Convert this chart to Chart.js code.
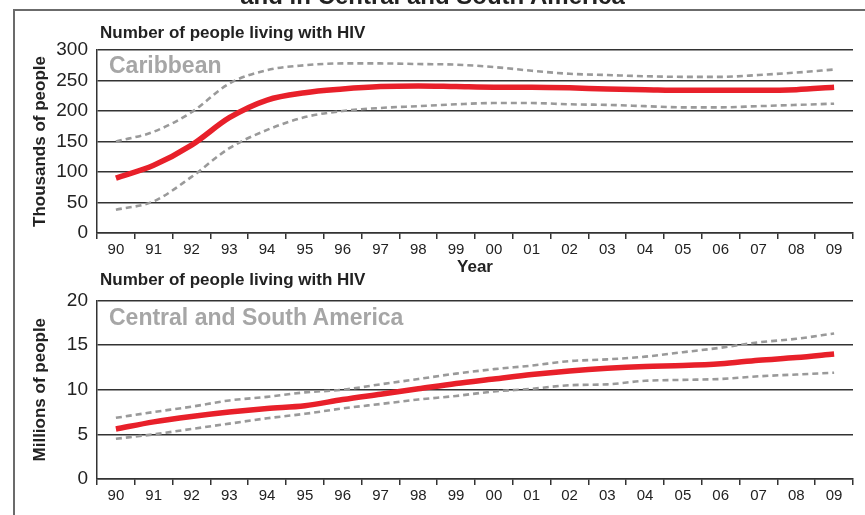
<!DOCTYPE html>
<html><head><meta charset="utf-8">
<script src="https://cdn.jsdelivr.net/npm/chart.js@4.4.1/dist/chart.umd.min.js"></script>
<style>
html,body{margin:0;padding:0;background:#fff;}
body{width:865px;height:515px;position:relative;overflow:hidden;font-family:"Liberation Sans",Arial,sans-serif;}
.frame{position:absolute;left:13px;top:9px;width:900px;height:600px;border-left:2px solid #6b6b6b;border-top:2px solid #6b6b6b;}
.lbl{position:absolute;white-space:nowrap;font-weight:bold;line-height:1;z-index:5;}
canvas{position:absolute;left:0;z-index:2;}
</style></head><body>
<div class="frame"></div>
<div class="lbl" style="left:0;width:865px;text-align:center;top:-16px;font-size:24px;color:#222;">and in Central and South America</div>
<div class="lbl" style="left:100px;top:24px;font-size:17px;color:#222;">Number of people living with HIV</div>
<div class="lbl" style="left:109px;top:54px;font-size:23px;color:#a6a6a6;">Caribbean</div>
<div class="lbl" style="left:100px;top:271px;font-size:17px;color:#222;">Number of people living with HIV</div>
<div class="lbl" style="left:109px;top:306px;font-size:23px;color:#a6a6a6;">Central and South America</div>
<canvas id="c1" width="865" height="280" style="top:0"></canvas>
<canvas id="c2" width="865" height="235" style="top:280px"></canvas>
<script>
const years = ['90','91','92','93','94','95','96','97','98','99','00','01','02','03','04','05','06','07','08','09'];

// Caribbean, thousands of people
const caribbeanHigh = [150,166,198,245,267,275,278,278,277,276,272,266,261,259,257,256,256,259,263,268];
const caribbeanEst  = [90,111,144,189,218,230,236,240,241,240,239,239,238,236,235,234,234,234,235,239];
const caribbeanLow  = [38,52,92,139,169,190,200,205,208,211,213,213,211,210,208,206,206,208,210,212];
const caribbeanTicks = [0,50,100,150,200,250,300];

// Central and South America, millions of people
const latamHigh = [6.85,7.5,8.1,8.8,9.2,9.7,10.0,10.6,11.2,11.8,12.3,12.7,13.2,13.4,13.7,14.2,14.7,15.3,15.7,16.3];
const latamEst  = [5.6,6.4,7.0,7.5,7.9,8.2,8.9,9.5,10.1,10.7,11.2,11.7,12.1,12.4,12.6,12.7,12.9,13.3,13.6,14.0];
const latamLow  = [4.5,5.0,5.6,6.2,6.8,7.3,7.9,8.4,8.9,9.3,9.8,10.1,10.5,10.6,11.0,11.1,11.2,11.5,11.7,11.9];
const latamTicks = [0,5,10,15,20];

const FONT = '"Liberation Sans", Arial, sans-serif';
Chart.defaults.font.family = FONT;

function band(data){
  return {data, borderColor:'#9a9a9a', borderWidth:2.6, borderDash:[6,4], borderCapStyle:'butt',
          pointRadius:0, tension:0.4, cubicInterpolationMode:'monotone', fill:false};
}
function est(data){
  return {data, borderColor:'#e8202a', borderWidth:5.5, borderCapStyle:'butt',
          pointRadius:0, tension:0.4, cubicInterpolationMode:'monotone', fill:false};
}

function makeChart(id, low, mid, high, yTicks, yTitle, xTitle, padTop, xHeight){
  const yMax = yTicks[yTicks.length-1];
  return new Chart(document.getElementById(id), {
    type:'line',
    data:{labels:years, datasets:[band(high), band(low), est(mid)]},
    options:{
      responsive:false, animation:false, devicePixelRatio:1,
      layout:{padding:{top:padTop,right:12,left:0,bottom:0}},
      plugins:{legend:{display:false},tooltip:{enabled:false},title:{display:false}},
      scales:{
        x:{
          type:'category', offset:true,
          grid:{offset:true, drawOnChartArea:false, drawTicks:true, tickLength:6, color:'#333', lineWidth:1.5},
          border:{display:true, color:'#333', width:1.5},
          ticks:{font:{size:15}, color:'#222', padding:2, maxRotation:0, autoSkip:false},
          title: xTitle ? {display:true, text:xTitle, font:{size:17, weight:'bold'}, color:'#222', padding:{top:0,bottom:2}} : {display:false},
          afterFit(s){ s.height = xHeight; }
        },
        y:{
          min:yTicks[0], max:yMax,
          afterBuildTicks(s){ s.ticks = yTicks.map(v => ({value:v})); },
          grid:{drawTicks:false, color:'#333', lineWidth:1.5},
          border:{display:true, color:'#333', width:1.5},
          ticks:{font:{size:19}, color:'#222', padding:9},
          title:{display:true, text:yTitle, font:{size:17, weight:'bold'}, color:'#222', padding:{top:30,bottom:0}},
          afterFit(s){ s.width = 97; }
        }
      }
    }
  });
}

makeChart('c1', caribbeanLow, caribbeanEst, caribbeanHigh, caribbeanTicks, 'Thousands of people', 'Year', 50, 47);
makeChart('c2', latamLow, latamEst, latamHigh, latamTicks, 'Millions of people', null, 17, 36);
</script>
</body></html>
